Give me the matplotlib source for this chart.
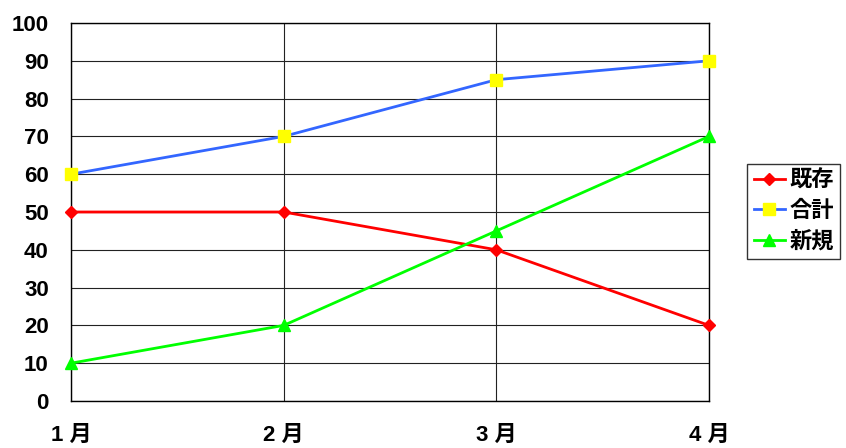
import numpy as np
import matplotlib.pyplot as plt

plt.rcParams['font.family'] = ['Liberation Sans', 'Noto Sans CJK JP', 'DejaVu Sans']

months = ["1 月", "2 月", "3 月", "4 月"]
kizon = [50, 50, 40, 20]
goukei = [60, 70, 85, 90]
shinki = [10, 20, 45, 70]

fig = plt.figure(figsize=(8.46, 4.48), dpi=100, facecolor='white')
ax = fig.add_axes([71/846, 47/448, 638/846, 378/448])

x = np.arange(len(months))
ax.plot(x, kizon, color='#ff0000', lw=2, marker='D', ms=6, mfc='#ff0000', mec='#ff0000', label='既存', clip_on=False, zorder=3)
ax.plot(x, goukei, color='#3366ff', lw=2, marker='s', ms=8, mfc='#ffff00', mec='#ffff00', label='合計', clip_on=False, zorder=3)
ax.plot(x, shinki, color='#00ff00', lw=2, marker='^', ms=9, mfc='#00ff00', mec='#00ff00', label='新規', clip_on=False, zorder=3)

ax.set_xlim(0, 3)
ax.set_ylim(0, 100)
ax.set_yticks(range(0, 101, 10))
ax.set_xticks(x)
ax.set_xticklabels(months)
ax.grid(True, color='#222222', lw=0.8)
ax.set_axisbelow(True)
for s in ax.spines.values():
    s.set_color('black')
    s.set_linewidth(1)
ax.tick_params(axis='both', length=0, labelsize=16)
ax.tick_params(axis='y', pad=16)
ax.tick_params(axis='x', pad=17)
for t in ax.get_xticklabels() + ax.get_yticklabels():
    t.set_fontweight('bold')

leg = ax.legend(loc='center left', bbox_to_anchor=(747/846, 0.528), bbox_transform=fig.transFigure,
                frameon=True, fancybox=False, prop={'weight': 'bold', 'size': 16},
                handlelength=1.4, handletextpad=0.2, borderpad=0.3, labelspacing=0.4, borderaxespad=0)
leg.get_frame().set_edgecolor('black')
leg.get_frame().set_linewidth(1)

plt.savefig('out.png', dpi=100, facecolor='white')
